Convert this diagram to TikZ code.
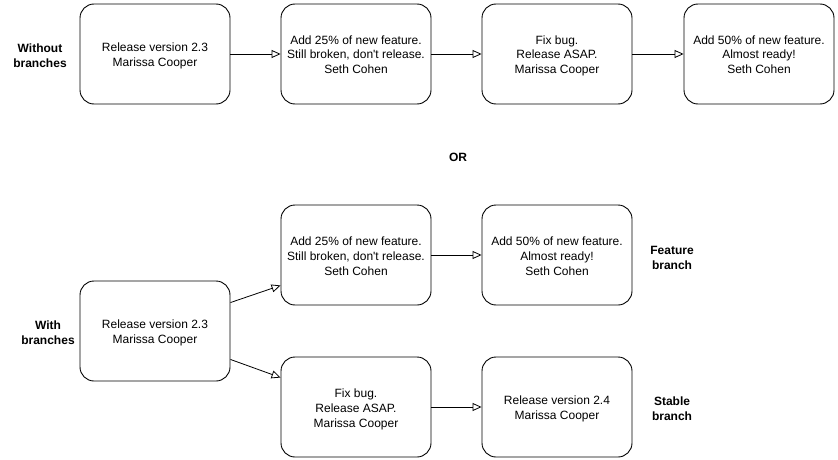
\documentclass[tikz,border=0pt]{standalone}
\usepackage{fontspec}
\setmainfont{Liberation Sans}[Ligatures=TeXOff]
\usetikzlibrary{arrows.meta,calc}
\tikzset{
  card/.style={draw=black, line width=0.9pt, rounded corners=14pt, minimum width=150pt, minimum height=100pt,
    align=center, inner sep=0pt, font=\fontsize{12}{15}\selectfont},
  lbl/.style={align=center, font=\bfseries\fontsize{12}{15}\selectfont},
  arr/.style={draw=black, line width=0.8pt, -{Triangle[open, length=9pt, width=8pt]}}
}
% card text, lowered slightly inside its box
\newcommand{\cardtext}[1]{\raisebox{-2pt}[\height][\depth]{\begin{tabular}{@{}c@{}}#1\end{tabular}}}
\begin{document}
\begin{tikzpicture}[x=1pt, y=-1pt]
\useasboundingbox (0,0) rectangle (838,460);

% linear history
\node[lbl] (wo) at (40,56) {Without\\branches};
\node[card] (a1) at (155,54) {\cardtext{Release version 2.3\\Marissa Cooper}};
\node[card] (a2) at (356,54) {\cardtext{Add 25\% of new feature.\\Still broken, don't release.\\Seth Cohen}};
\node[card] (a3) at (557,54) {\cardtext{Fix bug.\\Release ASAP.\\Marissa Cooper}};
\node[card] (a4) at (759,54) {\cardtext{Add 50\% of new feature.\\Almost ready!\\Seth Cohen}};
\draw[arr] (a1) -- (a2);
\draw[arr] (a2) -- (a3);
\draw[arr] (a3) -- (a4);

\node[lbl] (or) at (458,157) {OR};

% branched history
\node[lbl] (wb) at (48,333) {With\\branches};
\node[card] (b0) at (155,331) {\cardtext{Release version 2.3\\Marissa Cooper}};
\node[card] (f1) at (356,255) {\cardtext{Add 25\% of new feature.\\Still broken, don't release.\\Seth Cohen}};
\node[card] (f2) at (557,255) {\cardtext{Add 50\% of new feature.\\Almost ready!\\Seth Cohen}};
\node[card] (s1) at (356,407) {\cardtext{Fix bug.\\Release ASAP.\\Marissa Cooper}};
\node[card] (s2) at (557,407) {\cardtext{Release version 2.4\\Marissa Cooper}};
\node[lbl] (fb) at (672,258) {Feature\\branch};
\node[lbl] (sb) at (672,409) {Stable\\branch};

\coordinate (b0up) at ($(b0.north east)+(0,22)$);
\coordinate (b0dn) at ($(b0.south east)+(0,-22)$);
\coordinate (f1in) at ($(f1.south west)+(0,-20)$);
\coordinate (s1in) at ($(s1.north west)+(0,21)$);
\draw[arr] (b0up) -- (f1in);
\draw[arr] (b0dn) -- (s1in);
\draw[arr] (f1) -- (f2);
\draw[arr] (s1) -- (s2);
\end{tikzpicture}
\end{document}
